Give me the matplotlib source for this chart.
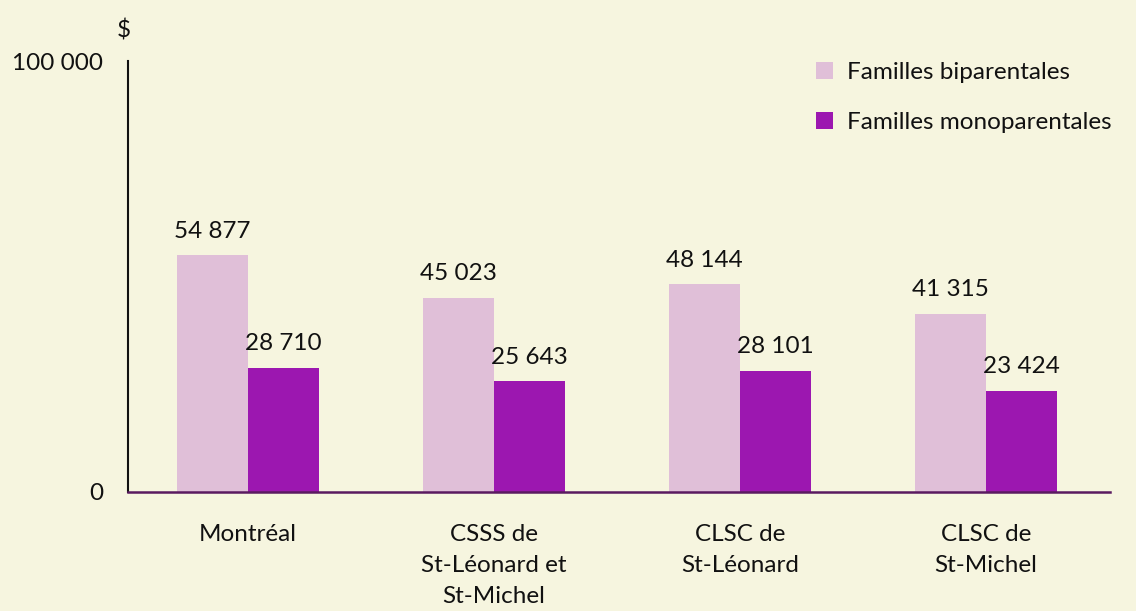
import matplotlib
matplotlib.use("Agg")
import matplotlib.pyplot as plt
import numpy as np

categories = ["Montréal", "CSSS de\nSt-Léonard et\nSt-Michel", "CLSC de\nSt-Léonard", "CLSC de\nSt-Michel"]
biparentales = [54877, 45023, 48144, 41315]
monoparentales = [28710, 25643, 28101, 23424]
series_names = ["Familles biparentales", "Familles monoparentales"]
yticks = [0, 100000]
ytick_labels = ["0", "100 000"]

bg = "#F6F5DF"
c_light = "#E0BFD8"
c_dark = "#9C17B0"
plt.rcParams['font.family'] = ['Lato', 'DejaVu Sans']
fs = 17.5

W, H = 1136, 611
fig = plt.figure(figsize=(W/100, H/100), dpi=100, facecolor=bg)
ax = fig.add_axes([128/W, 1-492/H, (1110-128)/W, (492-61)/H], facecolor=bg)

x = np.arange(len(categories))
bw = 0.287
b1 = ax.bar(x - bw/2, biparentales, bw, color=c_light, label=series_names[0], zorder=2)
b2 = ax.bar(x + bw/2, monoparentales, bw, color=c_dark, label=series_names[1], zorder=2)

def fmt(v):
    return f"{v:,}".replace(",", " ")

for bars, vals in ((b1, biparentales), (b2, monoparentales)):
    for r, v in zip(bars, vals):
        ax.annotate(fmt(v), (r.get_x() + r.get_width()/2, v), xytext=(0, 10),
                    textcoords="offset points", ha="center", va="bottom", fontsize=fs, color="#111111")

ax.set_xlim(-0.488, 3.504)
ax.set_ylim(0, 100000)
ax.set_yticks(yticks)
ax.set_yticklabels(ytick_labels, fontsize=fs, color="#111111")
ax.set_xticks(x)
ax.set_xticklabels(categories, fontsize=fs, color="#111111", linespacing=1.6, va="top")
ax.tick_params(axis="both", length=0)
ax.tick_params(axis="y", pad=18)
ax.tick_params(axis="x", pad=23)
for s in ("top", "right"):
    ax.spines[s].set_visible(False)
ax.spines["left"].set_color("#111111")
ax.spines["left"].set_linewidth(1.5)
ax.spines["bottom"].set_color("#5A1A60")
ax.spines["bottom"].set_linewidth(1.8)

fig.text(124/W, 1-30/H, "$", ha="center", va="center", fontsize=fs, color="#111111")

leg = ax.legend(loc="upper left", bbox_to_anchor=(806/W, 1-52/H), bbox_transform=fig.transFigure,
                frameon=False, fontsize=fs, handlelength=0.7, handleheight=0.7,
                handletextpad=0.6, labelspacing=1.2, borderaxespad=0)
for t in leg.get_texts():
    t.set_color("#111111")

fig.savefig("out.png", dpi=100, facecolor=bg)
